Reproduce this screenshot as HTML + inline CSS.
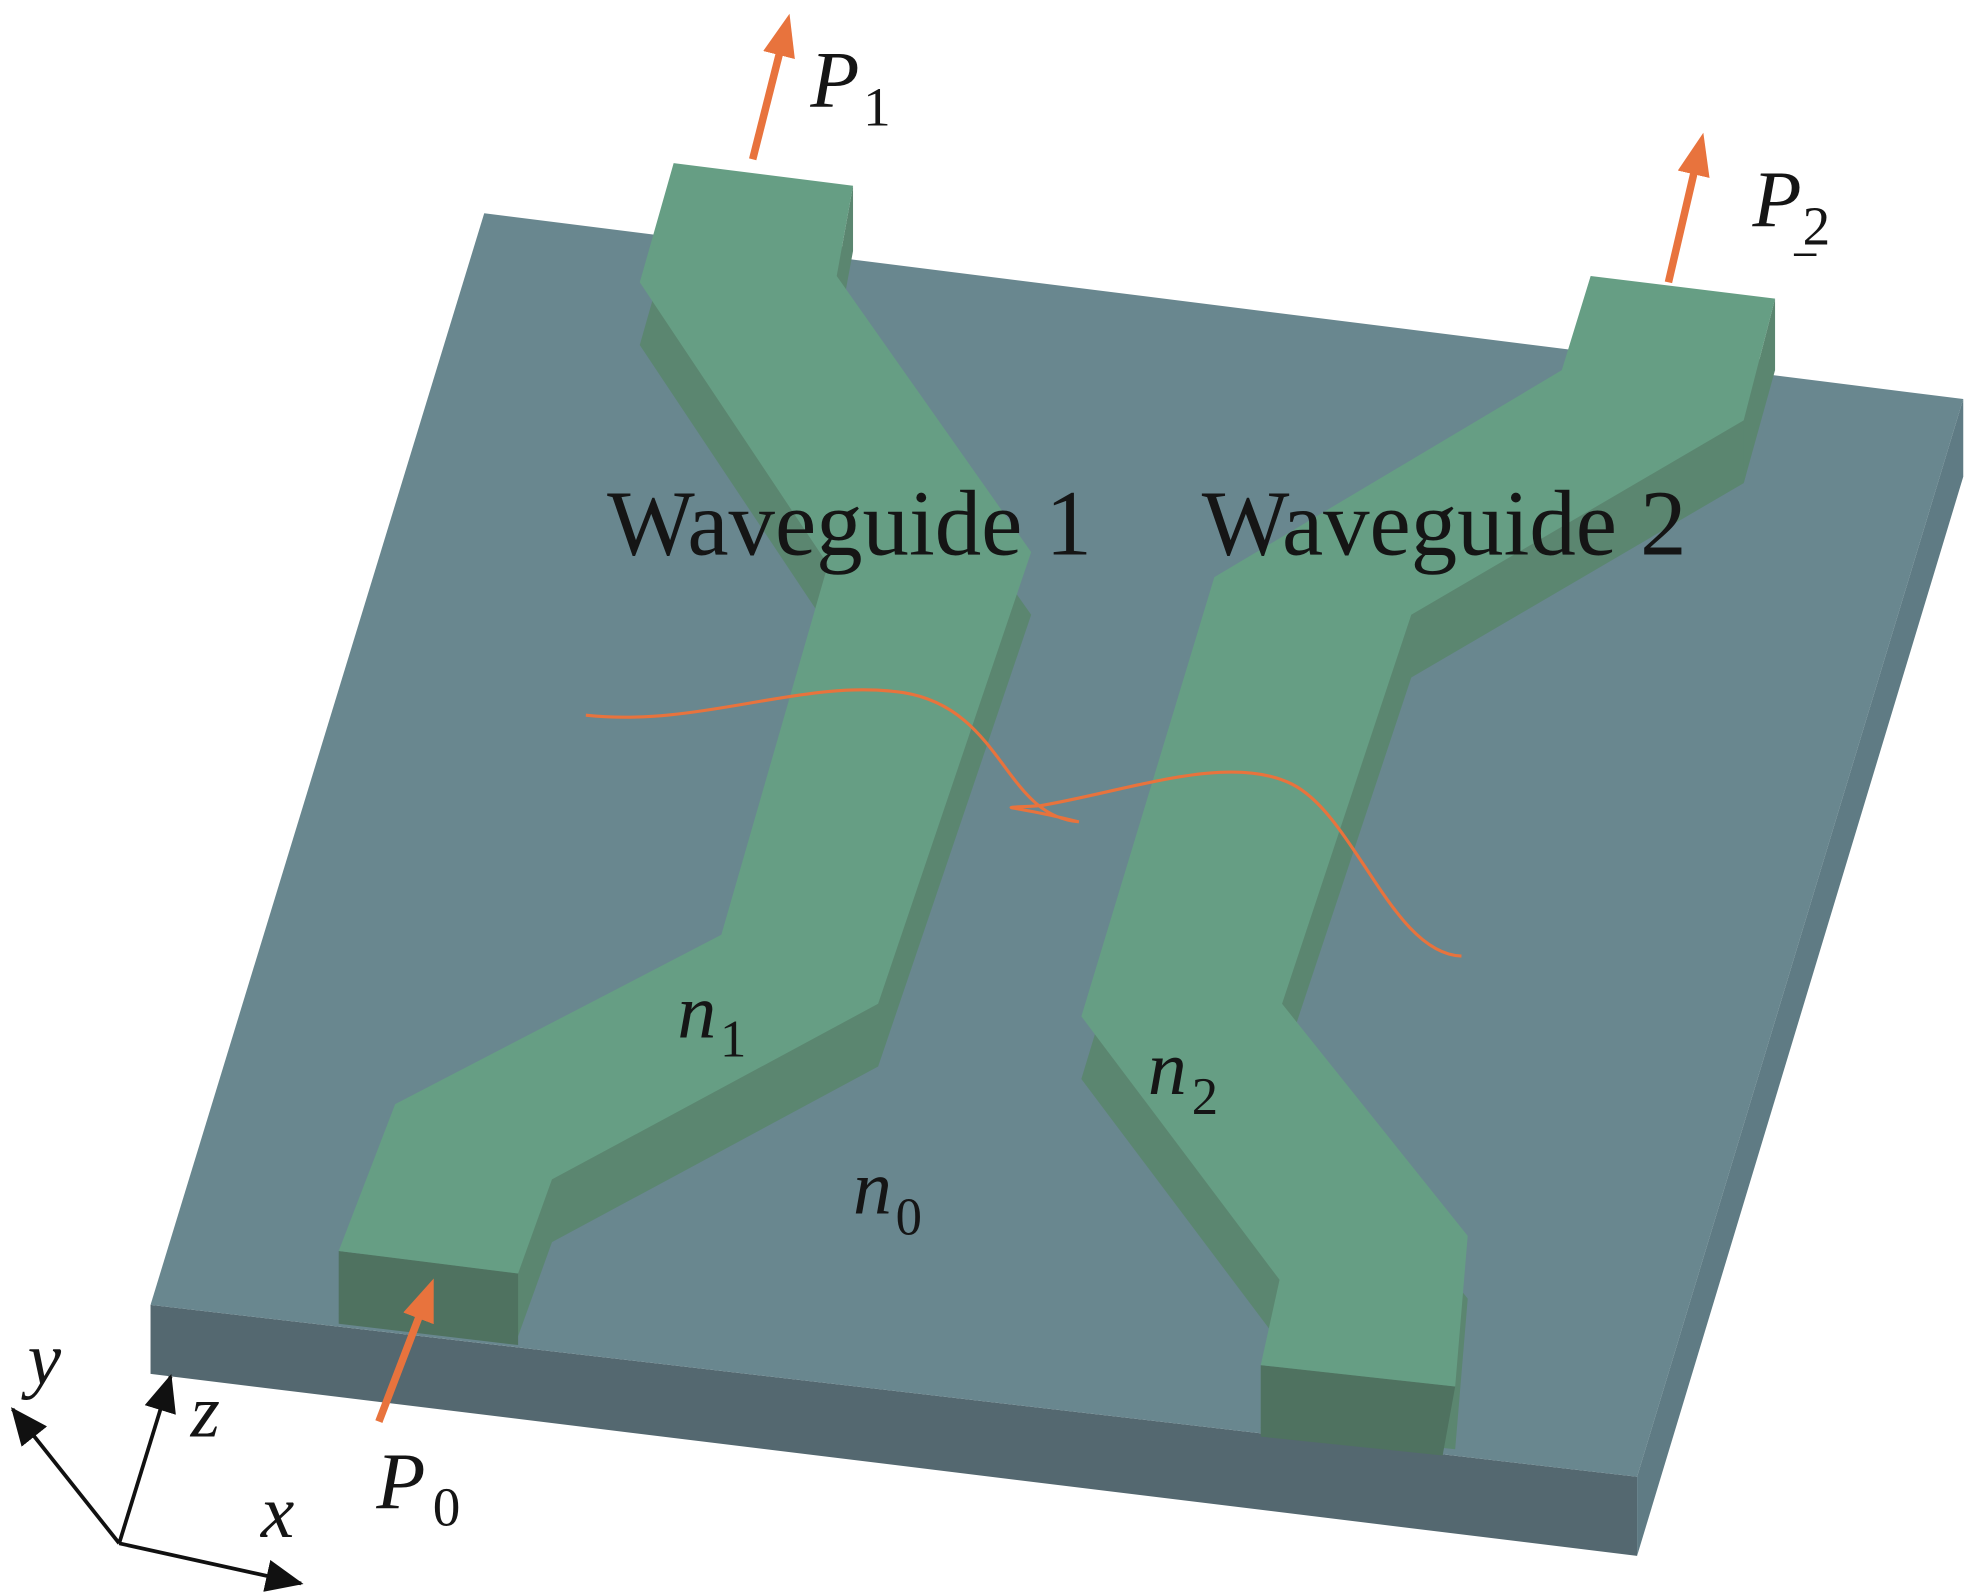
<!DOCTYPE html>
<html><head><meta charset="utf-8"><style>
html,body{margin:0;padding:0;background:#fff;}
svg{display:block;}
text{font-family:"Liberation Serif",serif;fill:#151515;}
</style></head><body>
<svg width="1967" height="1596" viewBox="0 0 1568 1272" preserveAspectRatio="none" xmlns="http://www.w3.org/2000/svg">
<defs>
<marker id="oa" markerWidth="34" markerHeight="26" refX="4" refY="13" orient="auto" markerUnits="userSpaceOnUse"><path d="M0,0 L34,13 L0,26 z" fill="#e8733d"/></marker>
<marker id="ka" markerWidth="30" markerHeight="26" refX="28" refY="13" orient="auto" markerUnits="userSpaceOnUse"><path d="M0,0 L30,13 L0,26 z" fill="#111"/></marker>
</defs>
<!-- substrate -->
<polygon points="120,1040 1305,1177 1305,1240 120,1095" fill="#546870"/>
<polygon points="1305,1177 1565,318 1565,380 1305,1240" fill="#5f7b84"/>
<polygon points="386,170 1565,318 1305,1177 120,1040" fill="#69878f"/>

<!-- waveguide 1 walls -->
<polygon points="537,130 680,148 667,220 822,440 700,800 440,940 413,1015 270,997 315,880 575,745 660,450 510,225" fill="#5b8670" transform="translate(0,50)"/>
<polygon points="270,997 413,1015 413,1072 270,1055" fill="#4f7260"/>
<polygon points="680,148 680,200 667,270 667,220" fill="#5b8670"/>
<polygon points="537,130 680,148 667,220 822,440 700,800 440,940 413,1015 270,997 315,880 575,745 660,450 510,225" fill="#669e84"/>

<!-- waveguide 2 walls -->
<polygon points="1268,220 1415,238 1390,335 1125,490 1022,800 1170,985 1160,1105 1005,1088 1020,1020 862,810 968,460 1245,295" fill="#5b8670" transform="translate(0,50)"/>
<polygon points="1415,238 1415,295 1390,385 1390,335" fill="#5b8670"/>
<polygon points="1005,1088 1160,1105 1150,1160 1005,1145" fill="#4f7260"/>
<polygon points="1268,220 1415,238 1390,335 1125,490 1022,800 1170,985 1160,1105 1005,1088 1020,1020 862,810 968,460 1245,295" fill="#669e84"/>

<!-- optical wave -->
<path d="M467,570 C560,580 640,540 720,552 C800,565 800,650 860,655 C800,640 790,645 830,642 C900,630 980,600 1030,625 C1080,650 1110,760 1165,762" fill="none" stroke="#e8733d" stroke-width="2.5"/>

<!-- power arrows -->
<line x1="600" y1="127" x2="622" y2="40" stroke="#e8733d" stroke-width="6" marker-end="url(#oa)"/>
<line x1="1330" y1="225" x2="1351" y2="135" stroke="#e8733d" stroke-width="6" marker-end="url(#oa)"/>
<line x1="302" y1="1133" x2="335" y2="1047" stroke="#e8733d" stroke-width="6" marker-end="url(#oa)"/>

<!-- axes -->
<line x1="95" y1="1230" x2="10" y2="1123" stroke="#111" stroke-width="3" marker-end="url(#ka)"/>
<line x1="95" y1="1230" x2="136" y2="1097" stroke="#111" stroke-width="3" marker-end="url(#ka)"/>
<line x1="95" y1="1230" x2="240" y2="1262" stroke="#111" stroke-width="3" marker-end="url(#ka)"/>
<text x="22" y="1103" font-size="60" font-style="italic">y</text>
<text x="152" y="1145" font-size="60" font-style="italic">z</text>
<text x="208" y="1225" font-size="60" font-style="italic">x</text>

<!-- labels -->
<text x="646" y="85" font-size="64" font-style="italic">P</text><text x="688" y="100" font-size="44">1</text>
<text x="1397" y="180" font-size="64" font-style="italic">P</text><text x="1437" y="195" font-size="44">2</text>
<line x1="1430" y1="203" x2="1448" y2="203" stroke="#111" stroke-width="2"/>
<text x="300" y="1202" font-size="64" font-style="italic">P</text><text x="345" y="1216" font-size="44">0</text>
<text x="484" y="442" font-size="74">Waveguide 1</text>
<text x="958" y="442" font-size="74">Waveguide 2</text>
<text x="540" y="827" font-size="62" font-style="italic">n</text><text x="574" y="842" font-size="42">1</text>
<text x="915" y="872" font-size="62" font-style="italic">n</text><text x="950" y="888" font-size="42">2</text>
<text x="680" y="967" font-size="62" font-style="italic">n</text><text x="714" y="984" font-size="42">0</text>
</svg>
</body></html>
